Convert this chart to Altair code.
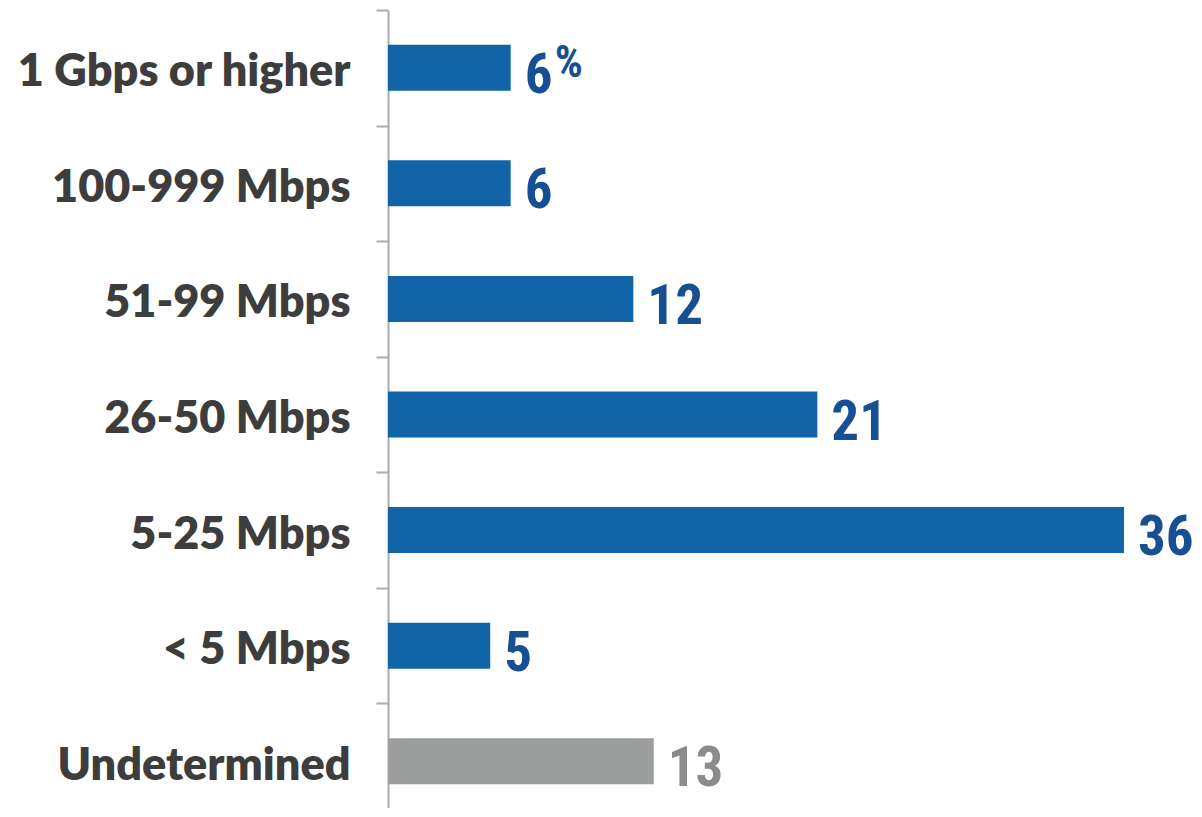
import altair as alt
import pandas as pd

categories = ["1 Gbps or higher", "100-999 Mbps", "51-99 Mbps", "26-50 Mbps",
              "5-25 Mbps", "< 5 Mbps", "Undetermined"]
values = [6, 6, 12, 21, 36, 5, 13]
suffixes = ["%", "", "", "", "", "", ""]
bar_colors = ["#1064a7"] * 6 + ["#9d9e9e"]
text_colors = ["#174f94"] * 6 + ["#8a8c8b"]

df = pd.DataFrame({
    "cat": categories,
    "val": values,
    "suffix": suffixes,
    "bar_color": bar_colors,
    "text_color": text_colors,
})

yscale = alt.Scale(domain=categories, range=[0, 809], paddingInner=0, paddingOuter=0)
xscale = alt.Scale(domain=[0, 36], nice=False, zero=True)

base = alt.Chart(df).encode(
    y=alt.Y("cat:N", scale=yscale, sort=categories,
            axis=alt.Axis(title=None, domain=True, domainColor="#ababab", domainWidth=2,
                          ticks=True, tickColor="#ababab", tickWidth=2, tickSize=12,
                          tickBand="extent", grid=False,
                          labelFont="Lato", labelFontWeight=800, labelFontSize=45,
                          labelColor="#3d3d3d", labelPadding=26, labelLimit=500,
                          labelBaseline="middle", labelOffset=4)),
    x=alt.X("val:Q", scale=xscale, axis=None),
)

bars = base.mark_bar(size=46).encode(
    color=alt.Color("bar_color:N", scale=None)
)

value_font = "Liberation Sans Narrow, Roboto Condensed, DejaVu Sans Condensed, sans-serif"

labels = base.mark_text(align="left", baseline="alphabetic", dx=14, dy=25,
                        font=value_font, fontWeight="bold", fontSize=55).encode(
    text=alt.Text("val:Q"),
    color=alt.Color("text_color:N", scale=None),
)

pct = base.mark_text(align="left", baseline="alphabetic", dx=44, dy=9,
                     font=value_font, fontWeight="bold", fontSize=44).encode(
    text=alt.Text("suffix:N"),
    color=alt.Color("text_color:N", scale=None),
)

chart = alt.layer(bars, labels, pct).properties(
    width=736, height=798,
    autosize=alt.AutoSizeParams(type="none"),
    padding={"left": 380, "top": 2, "right": 70, "bottom": 0},
).configure(background="white").configure_view(strokeWidth=0, stroke=None)

chart.save("out.html", embed_options={"renderer": "svg", "actions": False})
